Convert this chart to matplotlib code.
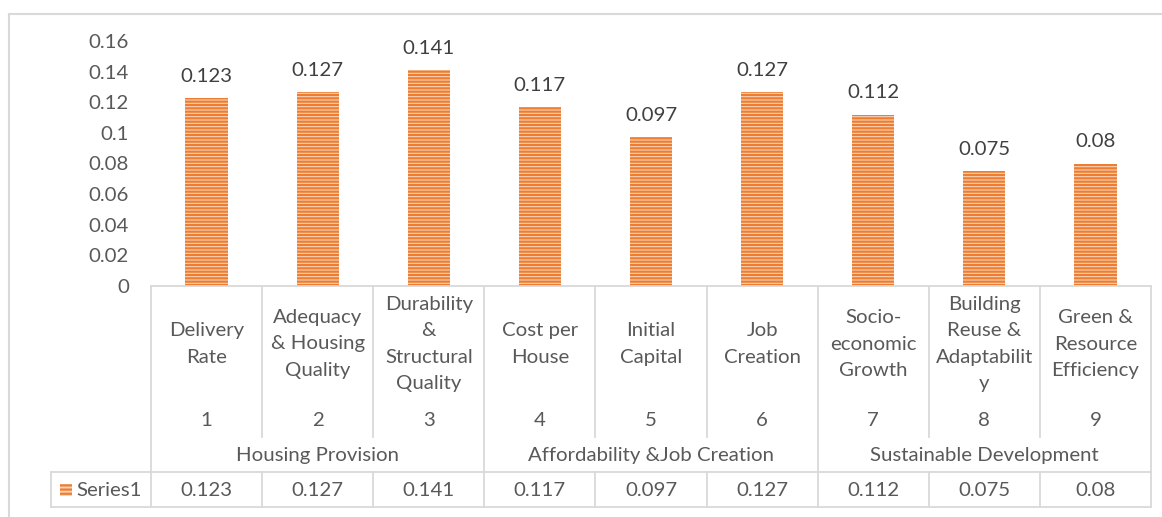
import matplotlib

matplotlib.use("Agg")
import matplotlib.pyplot as plt
from matplotlib.patches import Rectangle

# ----------------------------------------------------------------------
# Dados
# ----------------------------------------------------------------------
criterios = [
    "Delivery\nRate",
    "Adequacy\n& Housing\nQuality",
    "Durability\n&\nStructural\nQuality",
    "Cost per\nHouse",
    "Initial\nCapital",
    "Job\nCreation",
    "Socio-\neconomic\nGrowth",
    "Building\nReuse &\nAdaptabilit\ny",
    "Green &\nResource\nEfficiency",
]
numeros = ["1", "2", "3", "4", "5", "6", "7", "8", "9"]
grupos = ["Housing Provision", "Affordability &Job Creation", "Sustainable Development"]
tamanho_grupo = [3, 3, 3]
pesos = [0.123, 0.127, 0.141, 0.117, 0.097, 0.127, 0.112, 0.075, 0.08]
serie = "Series1"
yticks = [0, 0.02, 0.04, 0.06, 0.08, 0.1, 0.12, 0.14, 0.16]

# ----------------------------------------------------------------------
# Estilo
# ----------------------------------------------------------------------
W, H = 1162, 517
LARANJA = "#ED7D31"
FUNDO_BARRA = "#F9D3B8"
CINZA_TXT = "#595959"
CINZA_LINHA = "#D9D9D9"
FS = 14.7
plt.rcParams["font.family"] = ["Lato", "DejaVu Sans"]
plt.rcParams["hatch.linewidth"] = 1.6

fig = plt.figure(figsize=(W / 100, H / 100), dpi=100)

# área do gráfico (em pixels: x 151..1151, y 41..286)
x0, x1 = 151, 1151
y_top, y_zero = 41, 286
ax = fig.add_axes([x0 / W, 1 - y_zero / H, (x1 - x0) / W, (y_zero - y_top) / H])
n = len(pesos)
pos = list(range(n))
ax.bar(pos, pesos, width=0.38, color=FUNDO_BARRA, edgecolor=LARANJA,
       hatch="-----", linewidth=0)
for p, v in zip(pos, pesos):
    ax.text(p, v + 0.0085, f"{v:g}", ha="center", va="bottom",
            fontsize=FS, color="#404040")
ax.set_xlim(-0.5, n - 0.5)
ax.set_ylim(0, 0.16)
ax.set_yticks(yticks)
ax.set_yticklabels([f"{t:g}" for t in yticks])
ax.tick_params(axis="y", length=0, labelsize=FS, colors=CINZA_TXT, pad=16)
ax.set_xticks([])
for s in ax.spines.values():
    s.set_visible(False)

# eixo auxiliar: x nas mesmas unidades das barras, y em pixels (de cima)
tab = fig.add_axes([x0 / W, 0, (x1 - x0) / W, 1])
tab.set_xlim(-0.5, n - 0.5)
tab.set_ylim(H, 0)
tab.axis("off")
px = n / (x1 - x0)  # unidades de categoria por pixel

linha = dict(color=CINZA_LINHA, lw=1.3, clip_on=False)
y_num_fim, y_tab_top, y_tab_bot = 437, 472, 507

# linhas da tabela de categorias
tab.plot([-0.5, n - 0.5], [y_zero, y_zero], **linha)
tab.plot([-0.5, -0.5], [y_zero, y_tab_bot], **linha)
tab.plot([n - 0.5, n - 0.5], [y_zero, y_tab_bot], **linha)
limites = []
acc = 0
for t in tamanho_grupo:
    acc += t
    limites.append(acc)
for i in range(1, n):
    fim = y_tab_bot if i in limites else y_num_fim
    tab.plot([i - 0.5, i - 0.5], [y_zero, fim], **linha)
    if i not in limites:
        tab.plot([i - 0.5, i - 0.5], [y_tab_top, y_tab_bot], **linha)

# linha da tabela de dados, com a célula da legenda à esquerda
x_leg = -0.5 - (x0 - 51) * px
tab.plot([x_leg, n - 0.5], [y_tab_top, y_tab_top], **linha)
tab.plot([x_leg, n - 0.5], [y_tab_bot, y_tab_bot], **linha)
tab.plot([x_leg, x_leg], [y_tab_top, y_tab_bot], **linha)

# textos das categorias
for p, c, num, v in zip(pos, criterios, numeros, pesos):
    tab.text(p, 344, c, ha="center", va="center", fontsize=FS,
             color=CINZA_TXT, linespacing=1.65)
    tab.text(p, 421, num, ha="center", va="center", fontsize=FS, color=CINZA_TXT)
    tab.text(p, 490, f"{v:g}", ha="center", va="center", fontsize=FS, color=CINZA_TXT)
inicio = 0
for g, t in zip(grupos, tamanho_grupo):
    tab.text(inicio + (t - 1) / 2, 455, g, ha="center", va="center",
             fontsize=FS, color=CINZA_TXT)
    inicio += t

# chave da legenda
tab.add_patch(Rectangle((-0.5 - (x0 - 60) * px, 484), 12 * px, 12,
                        facecolor=FUNDO_BARRA, edgecolor=LARANJA, hatch="----",
                        linewidth=0, clip_on=False))
tab.text(-0.5 - (x0 - 76) * px, 490, serie, ha="left", va="center",
         fontsize=FS, color=CINZA_TXT)

# moldura externa
fig.add_artist(plt.Line2D([8.5 / W, 8.5 / W], [0, 1 - 13.5 / H],
                          transform=fig.transFigure, color=CINZA_LINHA, lw=1.5))
fig.add_artist(plt.Line2D([8.5 / W, 1], [1 - 13.5 / H, 1 - 13.5 / H],
                          transform=fig.transFigure, color=CINZA_LINHA, lw=1.5))

fig.savefig("out.png", dpi=100)
